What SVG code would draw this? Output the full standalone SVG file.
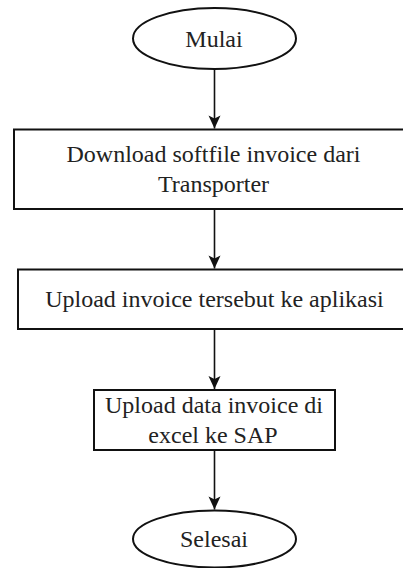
<svg xmlns="http://www.w3.org/2000/svg" width="403" height="568" viewBox="0 0 403 568">
<style>
.shape{fill:#fff;stroke:#111;stroke-width:2}
.t{font-family:"Liberation Serif","Times New Roman",serif;font-size:24px;fill:#222;text-anchor:middle}
.c{stroke:#111;stroke-width:1.6;fill:none}
</style>
<defs>
<marker id="ah" markerUnits="userSpaceOnUse" markerWidth="15" markerHeight="14" viewBox="-14 -7 15 14" refX="0" refY="0" orient="auto">
<path d="M0,0 L-13,-6 L-10,0 L-13,6 Z" fill="#111"/>
</marker>
</defs>
<rect width="403" height="568" fill="#fff"/>
<g id="connectors">
<line class="c" x1="214.5" y1="69" x2="214.5" y2="128.5" marker-end="url(#ah)"/>
<line class="c" x1="214.5" y1="209" x2="214.5" y2="268.5" marker-end="url(#ah)"/>
<line class="c" x1="214.5" y1="329" x2="214.5" y2="389" marker-end="url(#ah)"/>
<line class="c" x1="214.5" y1="450" x2="214.5" y2="509.5" marker-end="url(#ah)"/>
</g>
<g id="mulai">
<ellipse class="shape" cx="214.5" cy="38.5" rx="81.5" ry="30.5"/>
<text class="t" x="214" y="47">Mulai</text>
</g>
<g id="download">
<rect class="shape" x="14" y="129.5" width="400" height="79.5"/>
<text class="t" x="213.5" y="162">Download softfile invoice dari</text>
<text class="t" x="213.5" y="192">Transporter</text>
</g>
<g id="upload-aplikasi">
<rect class="shape" x="18" y="269.5" width="396" height="59.5"/>
<text class="t" x="214.5" y="307">Upload invoice tersebut ke aplikasi</text>
</g>
<g id="upload-sap">
<rect class="shape" x="94" y="390" width="241" height="60"/>
<text class="t" x="214" y="413">Upload data invoice di</text>
<text class="t" x="213" y="443">excel ke SAP</text>
</g>
<g id="selesai">
<ellipse class="shape" cx="214.5" cy="539" rx="81.5" ry="28.5"/>
<text class="t" x="214" y="547">Selesai</text>
</g>
</svg>
